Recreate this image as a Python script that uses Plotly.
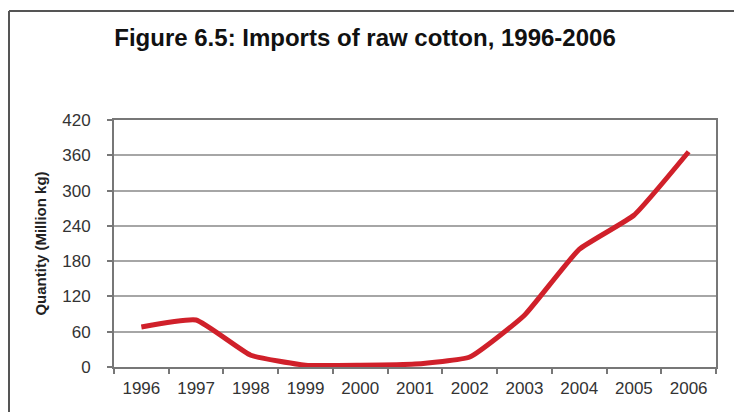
import plotly.graph_objects as go

years = ["1996", "1997", "1998", "1999", "2000", "2001", "2002", "2003", "2004", "2005", "2006"]
imports = [68, 80, 20, 3, 3, 5, 17, 88, 200, 258, 366]
y_ticks = [0, 60, 120, 180, 240, 300, 360, 420]

W, H = 734, 412
L, R, T, B = 114, 18, 120, 45

fig = go.Figure()
fig.add_trace(go.Scatter(
    x=years, y=imports, mode="lines",
    line=dict(color="#d0202a", width=5, shape="spline", smoothing=0.4),
    hoverinfo="x+y", showlegend=False,
))

pw = W - L - R
ph = H - T - B
def px_x(x):
    return (x - L) / pw
def px_y(y):
    return (H - B - y) / ph

fig.update_layout(
    width=W, height=H,
    margin=dict(l=L, r=R, t=T, b=B, pad=0),
    paper_bgcolor="white",
    plot_bgcolor="white",
    font=dict(family="Liberation Sans, Arial, sans-serif", color="#333333", size=17),
    title=dict(
        text="<b>Figure 6.5: Imports of raw cotton, 1996-2006</b>",
        x=365 / W, xref="container", xanchor="center",
        y=1 - 38 / H, yref="container", yanchor="middle",
        font=dict(size=24, color="#111111", family="Liberation Sans, Arial, sans-serif"),
    ),
    xaxis=dict(
        type="category",
        range=[-0.5, 10.5],
        tickson="boundaries",
        ticks="outside", ticklen=5, tickcolor="#777777", tickwidth=1.5,
        ticklabelstandoff=5,
        showline=True, linecolor="#777777", linewidth=2, mirror=True,
        showgrid=False,
        tickfont=dict(size=17, color="#333333"),
        fixedrange=True,
    ),
    yaxis=dict(
        range=[0, 420],
        tickvals=y_ticks,
        ticks="outside", ticklen=5, tickcolor="#777777", tickwidth=1.5,
        ticklabelstandoff=13,
        showline=True, linecolor="#777777", linewidth=2, mirror=True,
        showgrid=True, gridcolor="#a6a6a6", gridwidth=1.5,
        zeroline=False,
        tickfont=dict(size=17, color="#333333"),
        title=dict(text="<b>Quantity (Million kg)</b>", standoff=12,
                   font=dict(size=15, color="#222222")),
        fixedrange=True,
    ),
    shapes=[
        dict(type="line", xref="paper", yref="paper",
             x0=px_x(9), x1=px_x(9), y0=px_y(11), y1=px_y(H + 5),
             line=dict(color="#555555", width=2)),
        dict(type="line", xref="paper", yref="paper",
             x0=px_x(9), x1=px_x(W + 5), y0=px_y(11), y1=px_y(11),
             line=dict(color="#555555", width=2)),
    ],
)

fig.write_html(
    "out.html",
    config={"displayModeBar": False},
    post_script="document.body.style.margin='0';document.body.style.overflow='hidden';",
)
